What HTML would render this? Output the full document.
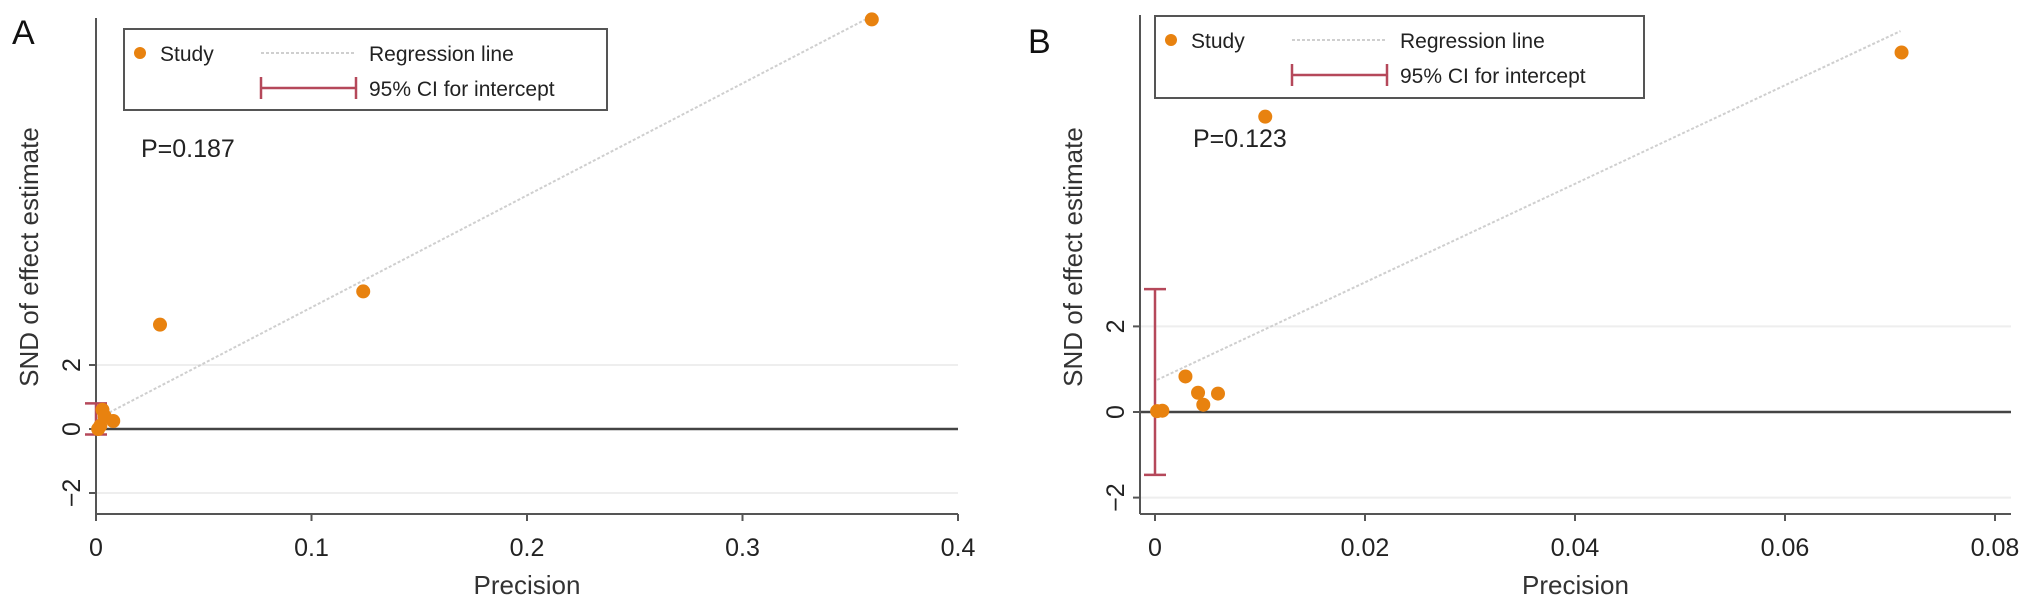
<!DOCTYPE html>
<html><head><meta charset="utf-8">
<style>
html,body{margin:0;padding:0;background:#fff;}
svg{display:block;font-family:"Liberation Sans",Arial,sans-serif;}
</style></head>
<body>
<svg id="chart" width="2032" height="608" viewBox="0 0 2032 608" xmlns="http://www.w3.org/2000/svg"></svg>
<script>
// Panel A data
const aPrecision = [0.360, 0.124, 0.0297, 0.001, 0.002, 0.003, 0.004, 0.008];
const aSND = [12.8, 4.3, 3.26, 0.0, 0.1, 0.6, 0.4, 0.25];
const aXTicks = [0, 0.1, 0.2, 0.3, 0.4];
const aXTickLabels = ["0", "0.1", "0.2", "0.3", "0.4"];
const aYTicks = [-2, 0, 2];
const aYTickLabels = ["\u22122", "0", "2"];
const aRegression = [[0, 0.3], [0.36, 12.9]];
const aCI = [-0.17, 0.8];
// Panel B data
const bPrecision = [0.0711, 0.0105, 0.0029, 0.0041, 0.0046, 0.006, 0.0002, 0.0007];
const bSND = [8.4, 6.9, 0.83, 0.45, 0.17, 0.43, 0.02, 0.03];
const bXTicks = [0, 0.02, 0.04, 0.06, 0.08];
const bXTickLabels = ["0", "0.02", "0.04", "0.06", "0.08"];
const bYTicks = [-2, 0, 2];
const bYTickLabels = ["\u22122", "0", "2"];
const bRegression = [[0.0002, 0.75], [0.071, 8.9]];
const bCI = [-1.47, 2.87];

const NS = "http://www.w3.org/2000/svg";
const svg = document.getElementById("chart");
function mk(tag, attrs, parent) {
  const e = document.createElementNS(NS, tag);
  for (const k in attrs) e.setAttribute(k, attrs[k]);
  (parent || svg).appendChild(e);
  return e;
}

function panel(cfg) {
  const g = mk("g", {});
  
  
  const sx = v => cfg.x0 + (v - cfg.xmin) / (cfg.xmax - cfg.xmin) * (cfg.x1 - cfg.x0);
  const sy = v => cfg.yZero - v * cfg.yUnit;
  // gridlines
  cfg.yTicks.forEach(t => {
    if (t !== 0) {
      const l = mk("line", {x1: cfg.axisX, x2: cfg.axisRight, y1: sy(t), y2: sy(t), stroke: "#eeeeee", "stroke-width": 2}, g);
      
      
    }
  });
  // zero line
  const z = mk("line", {x1: cfg.axisX, x2: cfg.axisRight, y1: sy(0), y2: sy(0), stroke: "#444", "stroke-width": 2.5}, g);
  
  
  // axes
  const ya = mk("line", {x1: cfg.axisX, x2: cfg.axisX, y1: cfg.axisTop, y2: cfg.axisBottom, stroke: "#555", "stroke-width": 2}, g);
  
  
  const xa = mk("line", {x1: cfg.axisX, x2: cfg.axisRight, y1: cfg.axisBottom, y2: cfg.axisBottom, stroke: "#555", "stroke-width": 2}, g);
  
  
  cfg.xTicks.forEach((t, i) => {
    mk("line", {x1: sx(t), x2: sx(t), y1: cfg.axisBottom, y2: cfg.axisBottom + 7, stroke: "#555", "stroke-width": 2}, g);
    const tx = mk("text", {x: sx(t), y: cfg.axisBottom + 42, "text-anchor": "middle", "font-size": 25, fill: "#222"}, g);
    tx.textContent = cfg.xTickLabels[i];
    
    
  });
  cfg.yTicks.forEach((t, i) => {
    mk("line", {x1: cfg.axisX - 7, x2: cfg.axisX, y1: sy(t), y2: sy(t), stroke: "#555", "stroke-width": 2}, g);
    const tx = mk("text", {x: 0, y: 0, "text-anchor": "middle", "font-size": 25, fill: "#222",
      transform: `translate(${cfg.axisX - 16},${sy(t)}) rotate(-90)`}, g);
    tx.textContent = cfg.yTickLabels[i];
    
    
  });
  // axis titles
  const xt = mk("text", {x: (cfg.axisX + cfg.axisRight) / 2, y: 594, "text-anchor": "middle", "font-size": 26, fill: "#333"}, g);
  xt.textContent = "Precision";
  
  
  const yt = mk("text", {x: 0, y: 0, "text-anchor": "middle", "font-size": 26, fill: "#333",
    transform: `translate(${cfg.axisX - 58},${cfg.yTitleY}) rotate(-90)`}, g);
  yt.textContent = "SND of effect estimate";
  
  
  // regression line
  const r = mk("line", {x1: sx(cfg.reg[0][0]), y1: sy(cfg.reg[0][1]), x2: sx(cfg.reg[1][0]), y2: sy(cfg.reg[1][1]),
    stroke: "#cfcfcf", "stroke-width": 2, "stroke-dasharray": "3,2"}, g);
  
  
  // CI
  const cx = sx(0);
  const ci = mk("g", {stroke: "#b5485a", "stroke-width": 2.5}, g);
  
  
  mk("line", {x1: cx, x2: cx, y1: sy(cfg.ci[0]), y2: sy(cfg.ci[1])}, ci);
  mk("line", {x1: cx - 11, x2: cx + 11, y1: sy(cfg.ci[0]), y2: sy(cfg.ci[0])}, ci);
  mk("line", {x1: cx - 11, x2: cx + 11, y1: sy(cfg.ci[1]), y2: sy(cfg.ci[1])}, ci);
  // points
  cfg.px.forEach((p, i) => {
    const c = mk("circle", {cx: sx(p), cy: sy(cfg.py[i]), r: 7, fill: "#e8820f"}, g);
    
    
  });
  // legend
  const L = cfg.leg;
  const lg = mk("g", {}, g);
  
  
  mk("rect", {x: L.x, y: L.y, width: L.w, height: L.h, fill: "#fff", stroke: "#555", "stroke-width": 2}, lg);
  mk("circle", {cx: L.x + 16, cy: L.y + 24, r: 6, fill: "#e8820f"}, lg);
  let t = mk("text", {x: L.x + 36, y: L.y + 32, "font-size": 21, fill: "#222"}, lg); t.textContent = "Study";
  mk("line", {x1: L.x + 137, x2: L.x + 232, y1: L.y + 24, y2: L.y + 24, stroke: "#cfcfcf", "stroke-width": 2, "stroke-dasharray": "3,2"}, lg);
  t = mk("text", {x: L.x + 245, y: L.y + 32, "font-size": 21, fill: "#222"}, lg); t.textContent = "Regression line";
  mk("line", {x1: L.x + 137, x2: L.x + 232, y1: L.y + 59, y2: L.y + 59, stroke: "#b5485a", "stroke-width": 2.5}, lg);
  mk("line", {x1: L.x + 137, x2: L.x + 137, y1: L.y + 48, y2: L.y + 70, stroke: "#b5485a", "stroke-width": 2.5}, lg);
  mk("line", {x1: L.x + 232, x2: L.x + 232, y1: L.y + 48, y2: L.y + 70, stroke: "#b5485a", "stroke-width": 2.5}, lg);
  t = mk("text", {x: L.x + 245, y: L.y + 67, "font-size": 21, fill: "#222"}, lg); t.textContent = "95% CI for intercept";
  // P text
  const pt = mk("text", {x: cfg.pX, y: cfg.pY, "font-size": 25, fill: "#222"}, g);
  pt.textContent = cfg.pText;
  
  
  // panel letter
  const pl = mk("text", {x: cfg.letterX, y: cfg.letterY, "font-size": 34, fill: "#111"}, g);
  pl.textContent = cfg.letter;
  
  
}

panel({name: "panel-a", x0: 96, x1: 958, xmin: 0, xmax: 0.4, yZero: 429, yUnit: 32,
  axisX: 96, axisRight: 958, axisTop: 18, axisBottom: 514, yTitleY: 257,
  xTicks: aXTicks, xTickLabels: aXTickLabels, yTicks: aYTicks, yTickLabels: aYTickLabels,
  reg: aRegression, ci: aCI, px: aPrecision, py: aSND,
  leg: {x: 124, y: 29, w: 483, h: 81}, pX: 141, pY: 157, pText: "P=0.187",
  letter: "A", letterX: 12, letterY: 44});
panel({name: "panel-b", x0: 1155, x1: 1995, xmin: 0, xmax: 0.08, yZero: 412, yUnit: 42.8,
  axisX: 1140, axisRight: 2011, axisTop: 15, axisBottom: 514, yTitleY: 257,
  xTicks: bXTicks, xTickLabels: bXTickLabels, yTicks: bYTicks, yTickLabels: bYTickLabels,
  reg: bRegression, ci: bCI, px: bPrecision, py: bSND,
  leg: {x: 1155, y: 16, w: 489, h: 82}, pX: 1193, pY: 147, pText: "P=0.123",
  letter: "B", letterX: 1028, letterY: 53});
</script>
</body></html>
